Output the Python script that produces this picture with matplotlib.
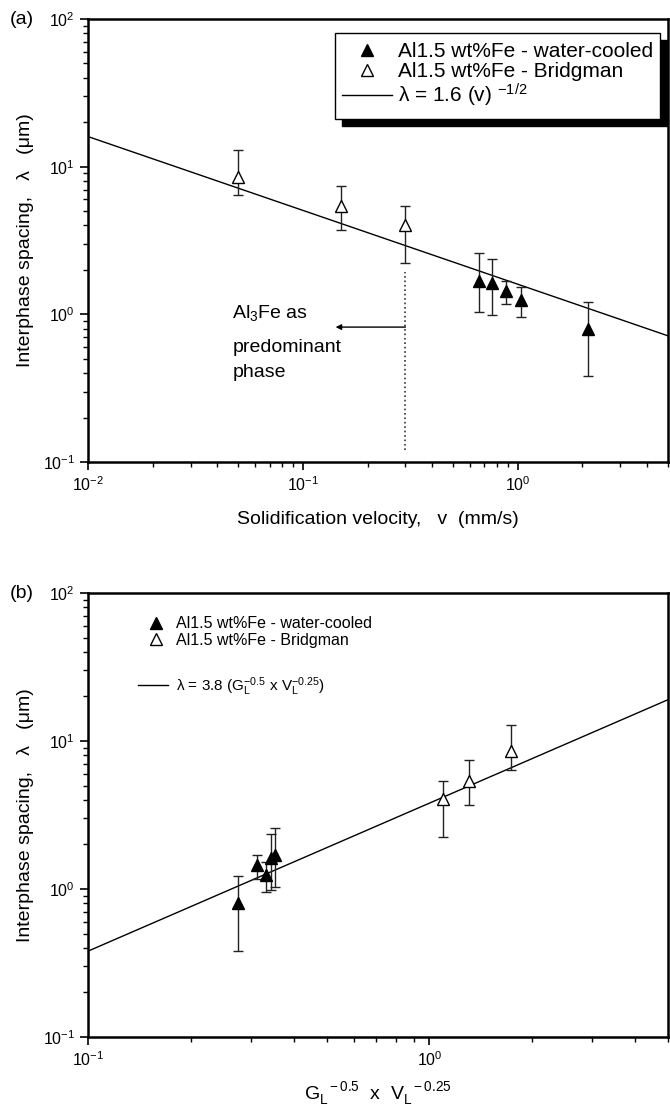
import numpy as np
import matplotlib
matplotlib.use("Agg")
import matplotlib.pyplot as plt
from matplotlib.lines import Line2D
from matplotlib.patches import Rectangle
from matplotlib.ticker import LogLocator, NullFormatter

plt.rcParams['font.family'] = ['Liberation Sans', 'DejaVu Sans']
plt.rcParams['mathtext.fontset'] = 'custom'
plt.rcParams['mathtext.rm'] = 'Liberation Sans'
plt.rcParams['mathtext.it'] = 'Liberation Sans:italic'
plt.rcParams['mathtext.default'] = 'regular'

# water-cooled samples
wc_v = [0.66, 0.76, 0.88, 1.03, 2.12]          # velocity (mm/s)
wc_gv = [0.352, 0.344, 0.313, 0.332, 0.276]    # G^-0.5 x V^-0.25
wc_lam = [1.69, 1.62, 1.45, 1.25, 0.80]
wc_hi = [2.59, 2.37, 1.69, 1.53, 1.22]
wc_lo = [1.03, 0.99, 1.17, 0.96, 0.38]

# Bridgman samples
br_v = [0.05, 0.15, 0.30]
br_gv = [1.73, 1.31, 1.10]
br_lam = [8.5, 5.4, 4.05]
br_hi = [12.9, 7.4, 5.4]
br_lo = [6.4, 3.7, 2.23]

# fits
fit_a_k, fit_a_n = 1.6, -0.5
fit_b_k = 3.8

lab_wc = "Al1.5 wt%Fe - water-cooled"
lab_br = "Al1.5 wt%Fe - Bridgman"


def err(lam, lo, hi):
    lam = np.array(lam)
    return [lam - np.array(lo), np.array(hi) - lam]


def style_axes(ax):
    for s in ax.spines.values():
        s.set_linewidth(1.8)
    ax.tick_params(which='major', direction='out', length=6, width=1.2, labelsize=11.5,
                   top=False, right=False)
    ax.tick_params(which='minor', direction='out', length=3.5, width=1.0,
                   top=False, right=False)
    ax.yaxis.set_minor_locator(LogLocator(base=10, subs=np.arange(2, 10)))
    ax.xaxis.set_minor_locator(LogLocator(base=10, subs=np.arange(2, 10)))
    ax.xaxis.set_minor_formatter(NullFormatter())
    ax.yaxis.set_minor_formatter(NullFormatter())


def plot_points(ax, x_wc, x_br, ms):
    ax.errorbar(x_wc, wc_lam, yerr=err(wc_lam, wc_lo, wc_hi), fmt='none',
                ecolor='#222222', elinewidth=1, capsize=3.5, capthick=1, zorder=2)
    ax.errorbar(x_br, br_lam, yerr=err(br_lam, br_lo, br_hi), fmt='none',
                ecolor='#222222', elinewidth=1, capsize=3.5, capthick=1, zorder=2)
    ax.plot(x_wc, wc_lam, '^', color='k', ms=ms, zorder=3)
    ax.plot(x_br, br_lam, '^', mfc='white', mec='k', mew=1, ms=ms, zorder=3)


fig = plt.figure(figsize=(6.7, 11.19), dpi=100)
ax1 = fig.add_axes([0.1313, 0.5871, 0.8657, 0.3959])
ax2 = fig.add_axes([0.1313, 0.0733, 0.8657, 0.3968])

# ---- panel (a)
vv = np.logspace(-2, np.log10(5), 50)
ax1.plot(vv, fit_a_k * vv ** fit_a_n, color='k', lw=1, zorder=1)
plot_points(ax1, wc_v, br_v, 9)
ax1.plot([0.3, 0.3], [0.12, 1.95], ':', color='#333333', lw=1.2, zorder=1)
ax1.annotate('', xy=(0.142, 0.82), xytext=(0.3, 0.82),
             arrowprops=dict(arrowstyle='-|>', lw=1, color='k', mutation_scale=8,
                             shrinkA=0, shrinkB=0))
ax1.text(0.047, 0.946, "Al$_3$Fe as", fontsize=14)
ax1.text(0.047, 0.56, "predominant", fontsize=14)
ax1.text(0.047, 0.377, "phase", fontsize=14)

ax1.set_xscale('log')
ax1.set_yscale('log')
ax1.set_xlim(0.01, 5)
ax1.set_ylim(0.1, 100)
style_axes(ax1)
ax1.set_xlabel("Solidification velocity,   v  (mm/s)", fontsize=14, labelpad=12)
ax1.set_ylabel("Interphase spacing,   λ   (μm)", fontsize=14, labelpad=6)
fig.text(0.015, 0.983, "(a)", fontsize=14, va='center')

# framed legend with solid black shadow
ax1.add_patch(Rectangle((0.426 + 0.012, 0.774 - 0.016), 0.56, 0.195, transform=ax1.transAxes,
                        facecolor='k', edgecolor='k', zorder=4))
ax1.add_patch(Rectangle((0.426, 0.774), 0.56, 0.195, transform=ax1.transAxes,
                        facecolor='white', edgecolor='k', lw=1, zorder=4.5))
h1 = [Line2D([], [], marker='^', ls='none', color='k', ms=9),
      Line2D([], [], marker='^', ls='none', mfc='white', mec='k', ms=9),
      Line2D([], [], color='k', lw=1)]
l1 = [lab_wc, lab_br, "λ = 1.6 (v) $^{-1/2}$"]
leg1 = ax1.legend(h1, l1, loc='upper left', bbox_to_anchor=(0.43, 0.958), frameon=False,
                  fontsize=15, handlelength=2.4, handletextpad=0.3, labelspacing=0.05,
                  borderaxespad=0, borderpad=0.2)
leg1.set_zorder(6)

# ---- panel (b)
gg = np.logspace(-1, np.log10(5), 50)
ax2.plot(gg, fit_b_k * gg, color='k', lw=1, zorder=1)
plot_points(ax2, wc_gv, br_gv, 8.5)
ax2.set_xscale('log')
ax2.set_yscale('log')
ax2.set_xlim(0.1, 5)
ax2.set_ylim(0.1, 100)
style_axes(ax2)
ax2.set_xlabel(r"G$_{L}^{\ \ -0.5}$  x  V$_{L}^{\ \ -0.25}$", fontsize=14, labelpad=8)
ax2.set_ylabel("Interphase spacing,   λ   (μm)", fontsize=14, labelpad=6)
fig.text(0.015, 0.47, "(b)", fontsize=14, va='center')

h2 = [Line2D([], [], marker='^', ls='none', color='k', ms=8.5),
      Line2D([], [], marker='^', ls='none', mfc='white', mec='k', ms=8.5)]
leg2 = ax2.legend(h2, [lab_wc, lab_br], loc='upper left', bbox_to_anchor=(0.1, 0.947),
                  frameon=False, fontsize=11.5, handlelength=1.2, handletextpad=0.7,
                  labelspacing=0.1, borderaxespad=0, borderpad=0)
ax2.add_artist(leg2)
h3 = [Line2D([], [], color='k', lw=1)]
ax2.legend(h3, [r"λ = 3.8 (G$_{L}^{-0.5}$ x V$_{L}^{-0.25}$)"], loc='upper left',
           bbox_to_anchor=(0.086, 0.815), frameon=False, fontsize=11, handlelength=2.0,
           handletextpad=0.5, borderaxespad=0, borderpad=0)

fig.savefig("out.png", dpi=100)
